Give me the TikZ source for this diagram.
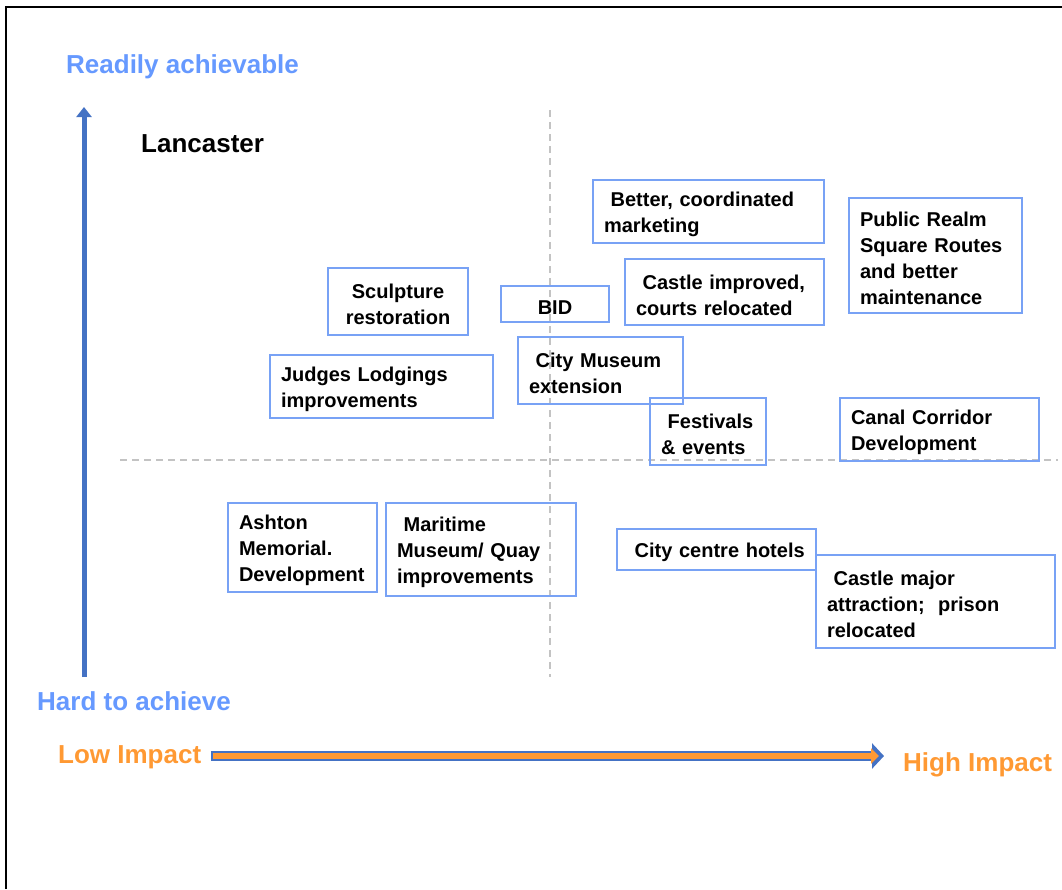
\documentclass[tikz,border=0pt]{standalone}
\usepackage{fontspec}
\setmainfont{Liberation Sans}
\usepackage{xcolor}
\usetikzlibrary{arrows.meta}
\definecolor{achblue}{RGB}{102,153,255}
\definecolor{imporange}{RGB}{255,153,51}
\definecolor{axisblue}{RGB}{68,114,196}
\definecolor{boxblue}{RGB}{120,162,245}
\definecolor{gridgrey}{RGB}{195,195,195}
\tikzset{idea/.style={draw=boxblue, line width=1.2pt, inner xsep=11pt, inner ysep=0pt, align=left, font=\bfseries\fontsize{20}{26}\selectfont, execute at begin node={\rule{0pt}{21pt}}}}
\tikzset{axlabel/.style={inner sep=0pt, anchor=base west, font=\bfseries\fontsize{26}{31}\selectfont}}
\tikzset{quarter/.style={gridgrey, line width=1.5pt, dash pattern=on 7pt off 5pt}}

\begin{document}
\begin{tikzpicture}[x=1pt, y=-1pt]
    \useasboundingbox (0,0) rectangle (1062,889);
    \draw[line width=2pt] (6,889) -- (6,7) -- (1062,7);

    \draw[quarter] (550,110) -- (550,677);
    \draw[quarter] (120,460) -- (1058,460);

    \coordinate (ylo) at (84,677);
    \coordinate (yhi) at (84,107);
    \coordinate (xlo) at (211,756);
    \coordinate (xhi) at (884,756);
    \draw[axisblue, line width=5pt, -{Triangle[width=15pt,length=10pt]}] (ylo) -- (yhi);
    \draw[axisblue, line width=10pt, -{Triangle[width=25pt,length=12pt]}] (xlo) -- (xhi);
    \draw[imporange, line width=5.5pt, -{Triangle[width=15pt,length=8pt]}] ([xshift=2pt]xlo) -- ([xshift=-5pt]xhi);

    \node[axlabel, achblue] (ready) at (66,73) {Readily achievable};
    \node[axlabel] (lanc) at (141,152) {Lancaster};
    \node[axlabel, achblue] (hard) at (37,710) {Hard to achieve};
    \node[axlabel, imporange] (low) at (58,763) {Low Impact};
    \node[axlabel, imporange] (high) at (903,771) {High Impact};

    \node[idea, text width=209pt, minimum height=63pt] (mkt) at (708.5,211.5) {~Better, coordinated\\marketing};
    \node[idea, text width=151pt, minimum height=115pt] (realm) at (935.5,255.5) {Public Realm\\Square Routes\\and better\\maintenance};
    \node[idea, align=center, text width=118pt, minimum height=67pt] (sculpt) at (398,301.5) {Sculpture\\restoration};
    \node[idea, align=center, text width=86pt, minimum height=36pt] (bid) at (555,304) {BID};
    \node[idea, text width=177pt, minimum height=66pt] (castle) at (724.5,292) {~Castle improved,\\courts relocated};
    \node[idea, text width=143pt, minimum height=67pt] (museum) at (600.5,370.5) {~City Museum\\extension};
    \node[idea, text width=201pt, minimum height=63pt] (judges) at (381.5,386.5) {Judges Lodgings\\improvements};
    \node[idea, text width=94pt, minimum height=67pt] (fest) at (708,431.5) {~Festivals\\\& events};
    \node[idea, text width=177pt, minimum height=63pt] (canal) at (939.5,429.5) {Canal Corridor\\Development};
    \node[idea, text width=127pt, minimum height=89pt] (ashton) at (302.5,547.5) {Ashton\\Memorial.\\Development};
    \node[idea, text width=168pt, minimum height=93pt] (maritime) at (481,549.5) {~Maritime\\Museum/ Quay\\improvements};
    \node[idea, text width=177pt, minimum height=41pt] (hotels) at (716.5,549.5) {~City centre hotels};
    \node[idea, text width=217pt, minimum height=93pt] (major) at (935.5,601.5) {~Castle major\\attraction;\ \ prison\\relocated};
\end{tikzpicture}
\end{document}
